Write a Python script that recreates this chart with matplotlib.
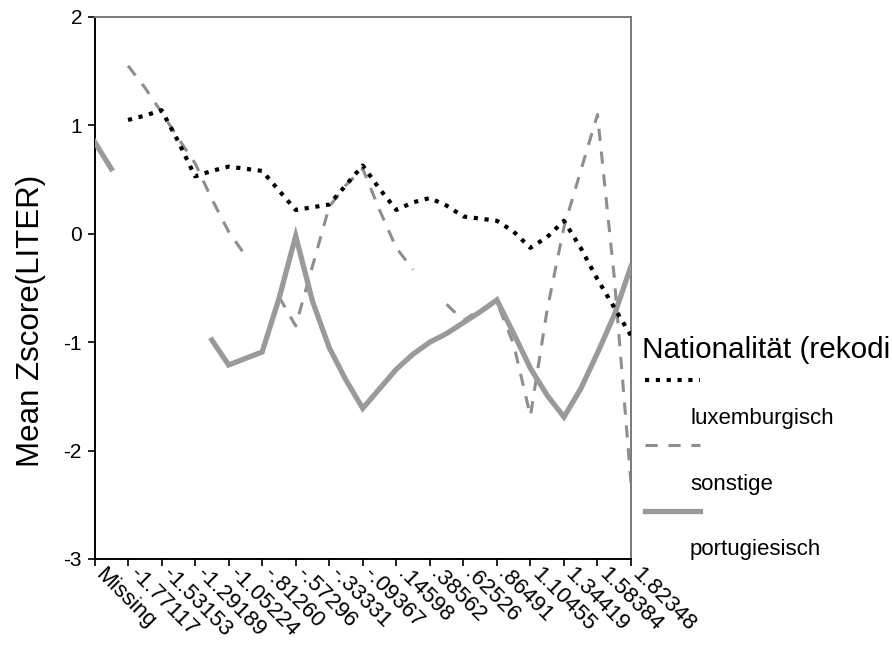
import numpy as np
import matplotlib
matplotlib.use("Agg")
import matplotlib.pyplot as plt
from matplotlib.lines import Line2D
from matplotlib.legend_handler import HandlerLine2D

plt.rcParams['font.family'] = ['Liberation Sans', 'DejaVu Sans']
plt.rcParams['axes.unicode_minus'] = False

# Category labels shown on the x axis (every other category is labelled)
tick_labels = ["Missing", "-1.77117", "-1.53153", "-1.29189", "-1.05224", "-.81260",
               "-.57296", "-.33331", "-.09367", ".14598", ".38562", ".62526",
               ".86491", "1.10455", "1.34419", "1.58384", "1.82348"]

nan = np.nan
# Mean Zscore(LITER) per category (33 categories, half steps between labels)
luxemburgisch = [nan, nan, 1.05, 1.09, 1.14, 0.85, 0.53, 0.58, 0.62, 0.60, 0.58,
                 0.40, 0.22, 0.245, 0.27, 0.45, 0.63, 0.415, 0.22, 0.29, 0.33,
                 0.26, 0.16, 0.14, 0.12, 0.02, -0.13, -0.03, 0.12, -0.13, -0.42,
                 -0.68, -0.94]
sonstige = [nan, nan, 1.55, 1.35, 1.12, 0.88, 0.65, 0.32, 0.02, -0.20, nan,
            -0.58, -0.85, -0.30, 0.25, 0.45, 0.60, 0.22, -0.13, -0.33, nan,
            -0.65, -0.80, -0.70, -0.63, -1.02, -1.68, -0.70, 0.06, 0.58, 1.10,
            -0.40, -2.30]
portugiesisch = [0.85, 0.60, nan, nan, nan, nan, nan, -0.98, -1.21, -1.15, -1.09,
                 -0.60, -0.02, -0.62, -1.05, -1.35, -1.61, -1.43, -1.25, -1.11,
                 -1.00, -0.92, -0.82, -0.72, -0.61, -0.92, -1.24, -1.49, -1.69,
                 -1.43, -1.10, -0.75, -0.30]

legend_title = "Nationalität (rekodi"
ylabel = "Mean Zscore(LITER)"

W, H = 892, 656
fig = plt.figure(figsize=(W / 100, H / 100), dpi=100)
L, R, T, B = 94.5, 631, 17, 559
ax = fig.add_axes([L / W, 1 - B / H, (R - L) / W, (B - T) / H])

x = np.arange(len(luxemburgisch)) / 2.0

l_son, = ax.plot(x, sonstige, color='#8e8e8e', lw=2.2, linestyle=(0, (4, 3.5)),
                 label='sonstige', zorder=2)
l_por, = ax.plot(x, portugiesisch, color='#9a9a9a', lw=3.8, label='portugiesisch',
                 zorder=3, solid_joinstyle='miter')
l_lux, = ax.plot(x, luxemburgisch, color='black', lw=3.0, linestyle=(0, (1, 1.6)),
                 label='luxemburgisch', zorder=4)

ax.set_xlim(0, 16)
ax.set_ylim(-3, 2)
ax.set_yticks([2, 1, 0, -1, -2, -3])
xt = np.arange(len(tick_labels))
ax.set_xticks(xt)
ax.set_xticklabels([])
for xi, lab in zip(xt, tick_labels):
    ax.annotate(lab, xy=(xi, 0), xycoords=('data', 'axes fraction'),
                xytext=(8.5, -3.6), textcoords='offset points',
                rotation=-45, ha='left', va='top', rotation_mode='anchor',
                fontsize=16, annotation_clip=False)
ax.tick_params(axis='x', direction='out', length=5, width=1.2, pad=0)
ax.tick_params(axis='y', direction='out', length=5, width=1.2, labelsize=15, pad=4)

for s in ['left', 'bottom']:
    ax.spines[s].set_color('black')
    ax.spines[s].set_linewidth(1.4)
for s in ['top', 'right']:
    ax.spines[s].set_color('#7a7a7a')
    ax.spines[s].set_linewidth(1.4)

ax.set_ylabel(ylabel, fontsize=22.5)
ax.yaxis.set_label_coords(-0.09, 0.44)


class UpHandler(HandlerLine2D):
    def __init__(self, up, w, x0, **kw):
        super().__init__(**kw)
        self._up, self._w, self._x0 = up, w, x0

    def create_artists(self, legend, orig_handle, xdescent, ydescent, width,
                       height, fontsize, trans):
        y = height / 2 - ydescent + self._up
        line = Line2D([self._x0 - xdescent, self._x0 - xdescent + self._w], [y, y])
        self.update_prop(line, orig_handle, legend)
        line.set_transform(trans)
        return [line]


hm = {h: UpHandler(up=26.5, w=40, x0=2) for h in (l_lux, l_son, l_por)}
leg = fig.legend([l_lux, l_son, l_por], ['luxemburgisch', 'sonstige', 'portugiesisch'],
                 handler_map=hm, loc='upper left', bbox_to_anchor=(642 / W, 1 - 336 / H),
                 frameon=False, borderpad=0, fontsize=16, title=legend_title,
                 title_fontsize=21.4, handlelength=1.6, handletextpad=0.56,
                 labelspacing=2.0, alignment='left', borderaxespad=0)

fig.savefig('out.png', dpi=100)
